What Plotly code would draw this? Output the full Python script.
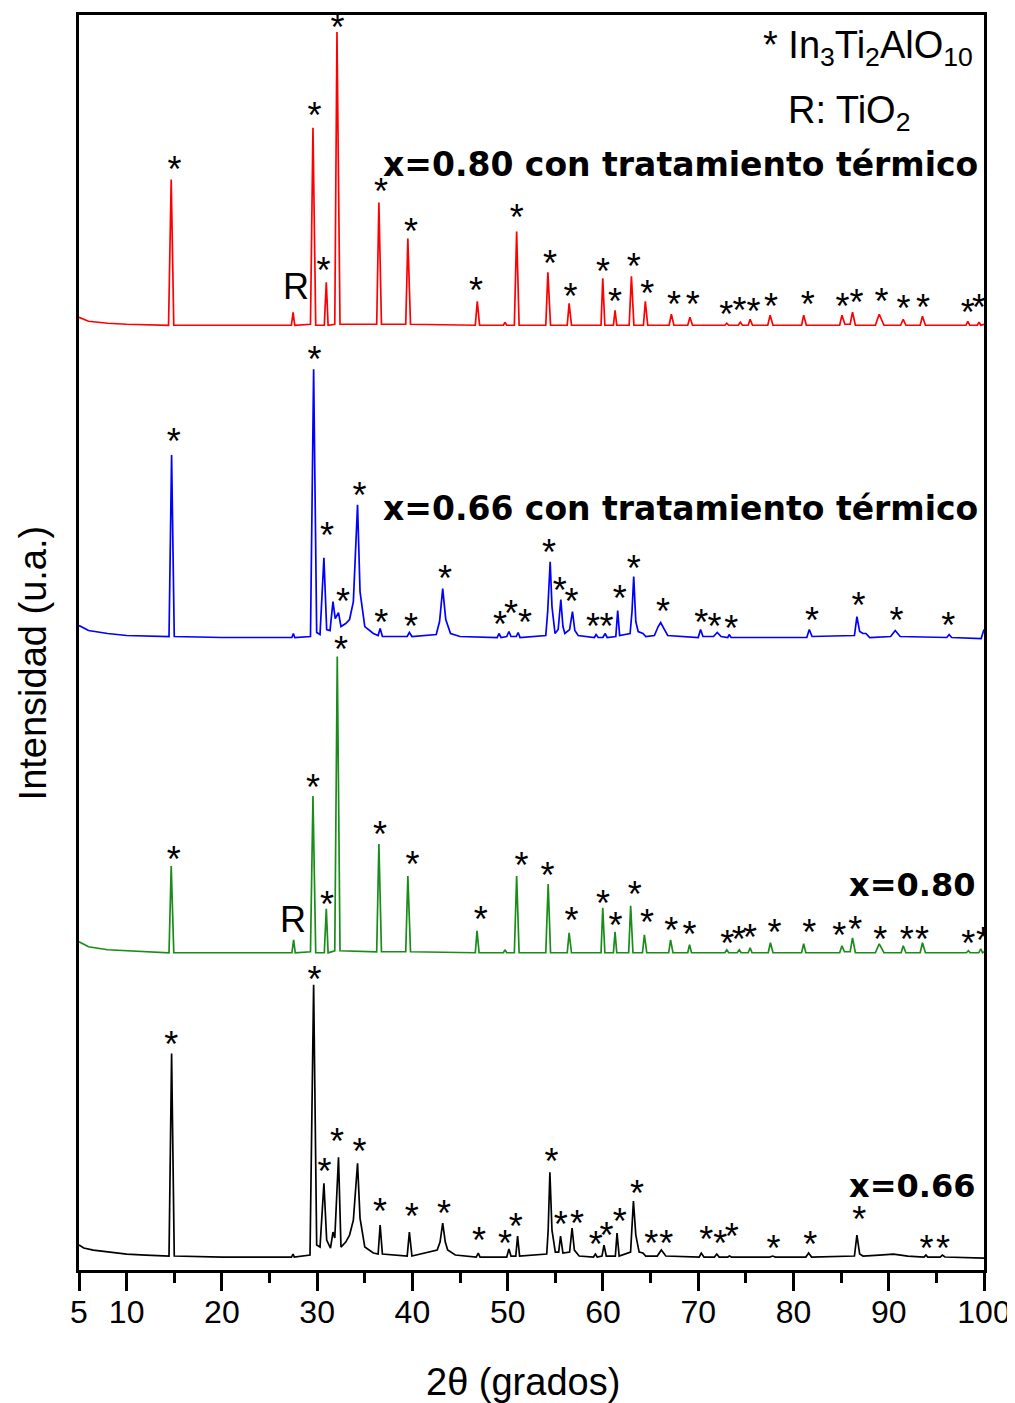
import plotly.graph_objects as go

# ---------------- data (2theta in degrees, intensity in arbitrary units, stacked) -------------
red_points = [(5.0,955),(6.0,951),(8.0,949),(10.0,948),(14.4,947),(14.68,1093),(14.95,947),(20.0,947),
    (27.3,947),(27.47,960),(27.65,947),(29.3,948),(29.56,1145),(29.85,947),(30.75,947),(30.96,990),(31.15,947),
    (31.85,948),(32.08,1241),(32.4,948),(36.25,948),(36.48,1070),(36.75,948),(39.3,948),(39.52,1034),(39.8,948),
    (46.6,947),(46.81,971),(47.05,947),(49.55,947),(49.71,950),(49.9,947),(50.7,947),(50.94,1041),(51.2,947),
    (54.0,947),(54.22,1000),(54.5,947),(56.25,947),(56.45,969),(56.7,947),(59.8,947),(59.98,994),(60.2,947),
    (61.1,947),(61.27,962),(61.45,947),(62.75,947),(62.99,996),(63.25,947),(64.25,947),(64.45,971),(64.7,947),
    (66.95,947),(67.18,958),(67.45,947),(68.9,947),(69.13,955),(69.4,947),(72.8,947),(73.0,949),(73.2,947),
    (74.2,947),(74.42,950),(74.65,947),(75.25,947),(75.45,953),(75.7,947),(77.3,947),(77.55,957),(77.85,947),
    (80.85,947),(81.07,957),(81.35,947),(84.85,947),(85.09,957),(85.4,948),(85.95,948),(86.2,960),(86.5,947),
    (88.6,947),(89.0,958),(89.5,947),(91.25,947),(91.52,953),(91.8,947),(93.3,947),(93.54,956),(93.85,947),
    (98.1,947),(98.3,951),(98.5,947),(99.3,947),(99.48,950),(99.65,947),(100.0,948)]

blue_points = [(5.0,646),(6.0,641),(8.0,638),(10.0,636),(14.45,635),(14.72,817),(15.0,635),(20.0,634),
    (27.35,634),(27.5,638),(27.65,634),(29.3,635),(29.63,903),(29.95,639),(30.3,637),(30.71,714),(31.0,642),
    (31.35,641),(31.66,670),(31.9,653),(32.24,659),(32.5,645),(33.0,648),(33.4,652),(33.8,670),(34.24,767),
    (34.5,680),(35.0,645),(35.9,638),(36.4,636),(36.61,643),(36.85,635),(39.45,635),(39.68,639),(39.95,635),
    (42.5,637),(42.85,650),(43.18,683),(43.5,652),(44.0,638),(45.0,635),(48.9,634),(49.08,638),(49.3,634),
    (49.9,635),(50.13,640),(50.35,635),(50.9,635),(51.1,639),(51.3,634),(54.0,636),(54.2,660),(54.46,710),
    (54.65,665),(54.97,638),(55.3,642),(55.58,672),(55.8,645),(56.0,638),(56.5,642),(56.8,660),(57.05,641),
    (57.4,636),(59.1,634),(59.28,637),(59.5,634),(60.0,634),(60.22,638),(60.45,634),(61.35,635),(61.55,661),
    (61.75,636),(62.85,638),(63.05,660),(63.23,695),(63.45,650),(63.7,640),(64.2,638),(64.5,635),(65.4,636),
    (65.8,645),(66.06,649),(66.4,643),(66.8,636),(70.0,634),(70.25,642),(70.5,635),(71.6,635),(72.0,639),
    (72.4,635),(73.1,634),(73.25,637),(73.45,634),(81.4,634),(81.66,642),(81.95,635),(86.4,636),(86.66,655),
    (86.95,640),(87.3,638),(87.61,638),(88.0,634),(90.2,635),(90.68,641),(91.2,635),(96.1,634),(96.34,637),
    (96.6,634),(99.7,633),(100.0,642)]

green_points = [(5.0,329),(6.0,324),(8.0,321),(10.0,320),(14.45,318),(14.68,405),(14.95,318),(20.0,318),
    (27.35,318),(27.53,331),(27.7,318),(29.3,319),(29.56,475),(29.85,318),(30.75,318),(30.96,362),(31.15,318),
    (31.85,320),(32.11,615),(32.4,320),(36.25,319),(36.48,427),(36.75,319),(39.3,319),(39.52,395),(39.8,319),
    (46.6,318),(46.78,340),(47.0,318),(49.55,318),(49.71,321),(49.9,318),(50.7,318),(50.94,395),(51.2,318),
    (54.0,318),(54.25,387),(54.5,318),(56.25,318),(56.45,338),(56.7,318),(59.8,318),(59.98,363),(60.2,318),
    (61.1,318),(61.27,339),(61.45,318),(62.7,318),(62.91,365),(63.15,318),(64.15,318),(64.35,336),(64.6,318),
    (66.9,318),(67.1,331),(67.35,318),(68.9,318),(69.09,326),(69.3,318),(72.8,318),(73.0,321),(73.2,318),
    (74.1,318),(74.31,321),(74.5,318),(75.25,318),(75.45,323),(75.65,318),(77.35,318),(77.58,328),(77.85,318),
    (80.85,318),(81.07,327),(81.3,318),(84.85,318),(85.09,325),(85.35,319),(85.95,319),(86.2,333),(86.5,318),
    (88.6,318),(89.0,327),(89.5,318),(91.3,318),(91.52,325),(91.8,318),(93.3,318),(93.54,328),(93.85,318),
    (98.15,318),(98.36,320),(98.55,318),(99.45,318),(99.66,322),(99.85,318),(100.0,319)]

black_points = [(5.0,25),(5.5,22),(6.5,20),(8.0,18),(10.0,16),(12.0,15),(14.45,14),(14.72,217),(15.0,14),
    (20.0,13),(27.3,13),(27.47,16),(27.6,13),(29.25,15),(29.63,286),(29.95,25),(30.3,23),(30.71,87),(31.0,30),
    (31.4,22),(31.66,38),(31.85,32),(32.24,113),(32.5,23),(33.0,28),(33.4,35),(33.8,50),(34.24,107),(34.5,52),
    (35.0,23),(35.9,17),(36.4,16),(36.61,45),(36.85,16),(39.45,14),(39.68,38),(39.95,14),(42.6,20),(42.9,28),
    (43.18,47),(43.45,28),(43.7,20),(44.5,15),(46.7,13),(46.91,17),(47.1,13),(49.9,13),(50.13,21),(50.35,14),
    (50.85,14),(51.04,34),(51.25,14),(54.1,16),(54.25,40),(54.43,98),(54.65,40),(55.0,18),(55.35,18),
    (55.55,34),(55.8,17),(56.5,18),(56.76,42),(57.0,20),(57.5,14),(59.0,13),(59.21,16),(59.4,13),(59.9,14),
    (60.11,25),(60.35,14),(61.3,14),(61.48,37),(61.7,14),(62.9,18),(63.05,40),(63.2,69),(63.45,35),(63.8,18),
    (64.2,17),(64.5,14),(65.7,14),(66.13,20),(66.6,14),(70.1,13),(70.32,17),(70.6,13),(71.7,13),(71.95,16),
    (72.2,13),(73.1,13),(73.28,14),(73.5,13),(77.5,13),(77.82,14),(78.1,13),(81.3,13),(81.59,17),(81.9,13),
    (86.4,14),(86.66,35),(86.95,16),(87.3,14),(89.0,15),(90.5,16),(92.0,14),(93.7,13),(93.9,15),(94.1,13),
    (95.4,13),(95.63,15),(95.9,13),(100.0,12)]

# asterisk marker positions (In3Ti2AlO10 reflections)
red_stars = [(15.03,1105),(29.73,1159),(30.67,1003),(32.14,1247),(36.69,1083),(39.86,1042),(46.67,983),
    (50.94,1057),(54.43,1010),(56.60,977),(60.01,1002),(61.27,972),(63.23,1007),(64.66,980),(67.45,969),
    (69.44,969),(72.94,959),(74.33,963),(75.80,962),(77.65,967),(81.49,969),(85.16,967),(86.62,971),
    (89.24,972),(91.55,965),(93.61,966),(98.30,961),(99.48,966)]
blue_stars = [(14.96,832),(29.73,914),(31.03,738),(32.71,672),(34.44,778),(36.72,651),(39.86,647),(43.42,695),
    (49.19,649),(50.34,660),(51.81,651),(54.35,721),(55.47,683),(56.70,672),(58.96,647),(60.37,647),
    (61.76,675),(63.23,705),(66.30,662),(70.32,651),(71.72,647),(73.46,645),(81.95,653),(86.83,668),
    (90.81,653),(96.26,648)]
green_stars = [(14.96,413),(29.56,485),(31.03,368),(32.50,623),(36.61,438),(40.0,408),(47.17,353),(51.46,407),
    (54.18,397),(56.70,352),(60.01,369),(61.31,347),(63.33,378),(64.62,350),(67.18,342),(69.09,338),
    (73.04,329),(74.26,333),(75.45,335),(78.0,340),(81.67,340),(84.81,337),(86.49,343),(89.11,333),
    (91.90,333),(93.48,333),(98.36,329),(99.90,332)]
black_stars = [(14.68,228),(29.73,293),(30.78,100),(32.08,130),(34.44,120),(36.61,60),(39.93,55),(43.32,58),
    (46.99,31),(49.71,28),(50.86,45),(54.60,110),(55.58,47),(57.29,48),(59.25,27),(60.37,36),(61.76,50),
    (63.57,78),(65.08,28),(66.65,28),(70.84,32),(72.31,28),(73.52,35),(77.90,23),(81.77,27),(86.91,52),
    (93.96,23),(95.71,23)]

# rutile (R) marks
rutile_marks = [(27.78, 982), (27.47, 348)]

series_names = ["x=0.80 con tratamiento térmico", "x=0.66 con tratamiento térmico", "x=0.80", "x=0.66"]
series_colors = ["#ff0000", "#0000ff", "#1a8c1a", "#000000"]

xtick_vals = [5, 10, 20, 30, 40, 50, 60, 70, 80, 90, 100]
xminor_vals = [15, 25, 35, 45, 55, 65, 75, 85, 95]

# ---------------- figure ----------------
FONT = "Liberation Sans, Arial, sans-serif"
STAR_SHIFT = 5  # glyph of '*' sits slightly above its anchor

fig = go.Figure()
for pts, name, col in zip([red_points, blue_points, green_points, black_points], series_names, series_colors):
    fig.add_trace(go.Scatter(x=[p[0] for p in pts], y=[p[1] for p in pts], mode="lines",
                             line=dict(color=col, width=1.7), name=name, hoverinfo="skip"))

for stars in [red_stars, blue_stars, green_stars, black_stars]:
    fig.add_trace(go.Scatter(x=[s[0] for s in stars], y=[s[1] - STAR_SHIFT for s in stars], mode="text",
                             text=["*"] * len(stars), textposition="middle center",
                             textfont=dict(family=FONT, size=36, color="black"), hoverinfo="skip"))

fig.add_trace(go.Scatter(x=[r[0] for r in rutile_marks], y=[r[1] for r in rutile_marks], mode="text",
                         text=["R"] * len(rutile_marks), textposition="middle center",
                         textfont=dict(family=FONT, size=36, color="black"), hoverinfo="skip"))

ann = []
label_font = dict(family="DejaVu Sans, sans-serif", size=33, color="black")
short_font = dict(family="DejaVu Sans, sans-serif", size=32, color="black")
ann.append(dict(x=0.996, y=1108, xref="paper", yref="y", text="<b>x=0.80 con tratamiento térmico</b>",
                showarrow=False, xanchor="right", yanchor="middle", font=label_font))
ann.append(dict(x=0.996, y=763, xref="paper", yref="y", text="<b>x=0.66 con tratamiento térmico</b>",
                showarrow=False, xanchor="right", yanchor="middle", font=label_font))
ann.append(dict(x=0.992, y=386, xref="paper", yref="y", text="<b>x=0.80</b>",
                showarrow=False, xanchor="right", yanchor="middle", font=short_font))
ann.append(dict(x=0.992, y=84, xref="paper", yref="y", text="<b>x=0.66</b>",
                showarrow=False, xanchor="right", yanchor="middle", font=short_font))
ann.append(dict(x=0.990, y=1225, xref="paper", yref="y",
                text="* In<sub>3</sub>Ti<sub>2</sub>AlO<sub>10</sub>",
                showarrow=False, xanchor="right", yanchor="middle", font=dict(family=FONT, size=38, color="black")))
ann.append(dict(x=0.920, y=1160, xref="paper", yref="y", text="R: TiO<sub>2</sub>",
                showarrow=False, xanchor="right", yanchor="middle", font=dict(family=FONT, size=38, color="black")))
ann.append(dict(x=0.491, y=-0.089, xref="paper", yref="paper", text="2θ (grados)",
                showarrow=False, xanchor="center", yanchor="middle", font=dict(family=FONT, size=38, color="black")))
ann.append(dict(x=-0.051, y=0.484, xref="paper", yref="paper", text="Intensidad (u.a.)", textangle=-90,
                showarrow=False, xanchor="center", yanchor="middle", font=dict(family=FONT, size=38, color="black")))

# page body has an 8px default margin, so the figure is 8px smaller than the window on each leading side
fig.update_layout(
    width=1007, height=1395,
    margin=dict(l=71, r=30, t=4, b=133),
    paper_bgcolor="white", plot_bgcolor="white",
    showlegend=False,
    annotations=ann,
    xaxis=dict(range=[5, 100], tickmode="array", tickvals=xtick_vals, ticktext=[str(v) for v in xtick_vals],
               ticks="outside", ticklen=18, tickwidth=2.5, tickcolor="black", ticklabelstandoff=-6,
               minor=dict(tickmode="array", tickvals=xminor_vals, ticks="outside", ticklen=10, tickwidth=2.5,
                          tickcolor="black", showgrid=False),
               showline=True, linewidth=2.5, linecolor="black", mirror=True, showgrid=False, zeroline=False,
               tickfont=dict(family=FONT, size=32, color="black")),
    yaxis=dict(range=[0, 1258], showticklabels=False, ticks="", showline=True, linewidth=2.5,
               linecolor="black", mirror=True, showgrid=False, zeroline=False),
)

fig.write_html("out.html")
